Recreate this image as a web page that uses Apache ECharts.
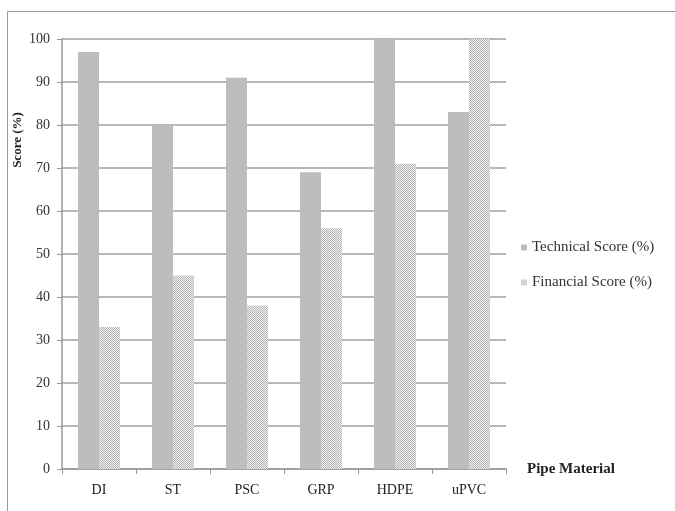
<!DOCTYPE html>
<html>
<head>
<meta charset="utf-8">
<script src="https://cdn.jsdelivr.net/npm/echarts@6/dist/echarts.min.js"></script>
<style>
  html, body { margin: 0; padding: 0; background: #fff; }
  #chart { width: 675px; height: 511px; }
</style>
</head>
<body>
<div id="chart"></div>
<script>
// Pipe materials and their scores
const materials = ['DI', 'ST', 'PSC', 'GRP', 'HDPE', 'uPVC'];
const technicalScore = [97, 80, 91, 69, 100, 83];
const financialScore = [33, 45, 38, 56, 71, 100];
const yTicks = [0, 10, 20, 30, 40, 50, 60, 70, 80, 90, 100];

// Dotted fill used for the financial bars
function dotPattern() {
  const c = document.createElement('canvas');
  c.width = 2; c.height = 2;
  const g = c.getContext('2d');
  g.fillStyle = '#f2f2f2'; g.fillRect(0, 0, 2, 2);
  g.fillStyle = '#b4b4b4';
  g.fillRect(0, 0, 1, 1);
  g.fillRect(1, 1, 1, 1);
  return c;
}
const dotFill = { image: dotPattern(), repeat: 'repeat' };

const serif = '"Liberation Serif", "Times New Roman", serif';
const chart = echarts.init(document.getElementById('chart'), null, { renderer: 'canvas' });

chart.setOption({
  animation: false,
  backgroundColor: '#fff',
  grid: { left: 62, right: 169, top: 39, bottom: 42 },
  legend: {
    orient: 'vertical',
    left: 516, top: 235,
    itemWidth: 6, itemHeight: 6, itemGap: 20,
    icon: 'rect',
    textStyle: { fontFamily: serif, fontSize: 15, color: '#333' },
    data: ['Technical Score (%)', 'Financial Score (%)']
  },
  xAxis: {
    type: 'category',
    data: materials,
    name: 'Pipe Material',
    nameLocation: 'end',
    nameGap: 21,
    nameTextStyle: { fontFamily: serif, fontSize: 15, fontWeight: 'bold', color: '#222', verticalAlign: 'middle', align: 'left' },
    axisLine: { lineStyle: { color: '#999', width: 1.5 } },
    axisTick: { show: true, length: 5, lineStyle: { color: '#999' } },
    axisLabel: { fontFamily: serif, fontSize: 14, color: '#222', margin: 14 }
  },
  yAxis: {
    type: 'value',
    min: 0, max: 100, interval: 10,
    axisLine: { show: true, lineStyle: { color: '#999', width: 1.5 } },
    axisTick: { show: true, length: 5, lineStyle: { color: '#999' } },
    axisLabel: {
      fontFamily: serif, fontSize: 14, color: '#333', margin: 12,
      formatter: v => (yTicks.indexOf(v) >= 0 ? String(v) : '')
    },
    splitLine: { lineStyle: { color: '#a0a0a0', width: 1.5 } }
  },
  series: [
    {
      name: 'Technical Score (%)',
      type: 'bar',
      data: technicalScore,
      barWidth: 21,
      barGap: '0%',
      itemStyle: { color: '#bdbdbd' }
    },
    {
      name: 'Financial Score (%)',
      type: 'bar',
      data: financialScore,
      barWidth: 21,
      barGap: '0%',
      itemStyle: { color: dotFill }
    }
  ],
  graphic: [
    {
      type: 'rect',
      shape: { x: 7.5, y: 11.5, width: 680, height: 520 },
      style: { fill: null, stroke: '#999', lineWidth: 1 },
      silent: true,
      z: -1
    },
    {
      // vertical axis title, set high along the axis
      type: 'text',
      x: 18, y: 140,
      rotation: Math.PI / 2,
      style: {
        text: 'Score (%)',
        font: 'bold 13px ' + serif,
        fill: '#222',
        align: 'center',
        verticalAlign: 'middle'
      },
      silent: true
    }
  ]
});
</script>
</body>
</html>
